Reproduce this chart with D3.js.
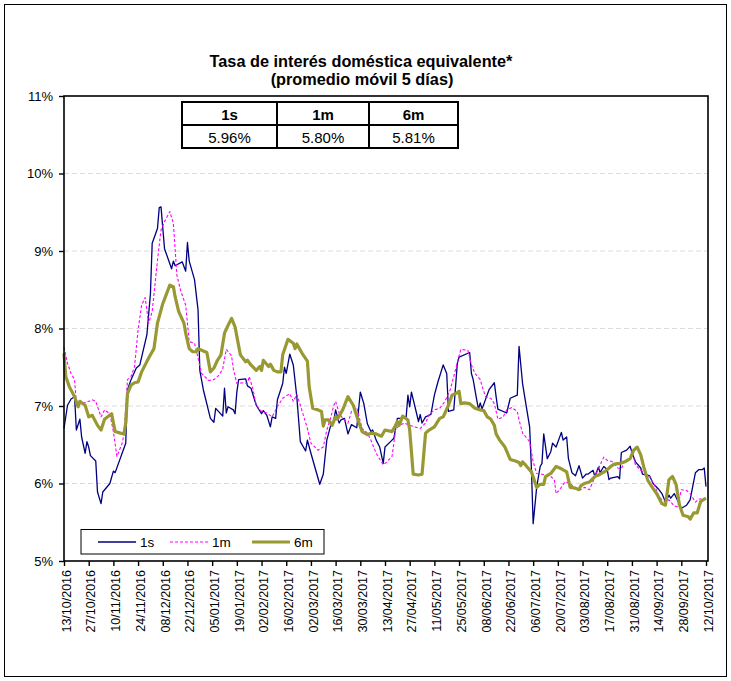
<!DOCTYPE html>
<html>
<head>
<meta charset="utf-8">
<script src="https://cdn.jsdelivr.net/npm/d3@7/dist/d3.min.js"></script>
<style>
  body { margin: 0; background: #fff; }
  svg { display: block; }
  text { font-family: "Liberation Sans", Arial, Helvetica, sans-serif; fill: #000; }
</style>
</head>
<body>
<svg id="chart" width="731" height="681"></svg>
<script>
// ---- Data -------------------------------------------------------------
// Day offsets are counted from the first date on the axis (13/10/2016).
const startLabel = "13/10/2016";

const xTickLabels = [
  "13/10/2016", "27/10/2016", "10/11/2016", "24/11/2016", "08/12/2016", "22/12/2016",
  "05/01/2017", "19/01/2017", "02/02/2017", "16/02/2017", "02/03/2017", "16/03/2017",
  "30/03/2017", "13/04/2017", "27/04/2017", "11/05/2017", "25/05/2017", "08/06/2017",
  "22/06/2017", "06/07/2017", "20/07/2017", "03/08/2017", "17/08/2017", "31/08/2017",
  "14/09/2017", "28/09/2017", "12/10/2017"
];
const yTicks = [5, 6, 7, 8, 9, 10, 11];
const yGrid = [6, 7, 8, 9, 10];

const seriesNames = ["1s", "1m", "6m"];

// 1 semana
const days1s = [0,2,4,6,7,9,10,12,13,14,15,18,19,21,22,26,28,29,35,36,38,41,43,47,49,50,53,54,55,57,
  61,62,63,67,69,70,71,74,76,77,79,83,85,86,90,91,92,93,96,97,98,99,103,104,106,109,112,113,115,117,
  118,120,121,124,125,126,128,130,132,134,137,138,140,145,147,149,151,153,154,156,157,159,161,163,166,168,170,172,174,175,
  177,179,181,182,186,187,189,191,194,195,196,197,199,201,202,203,205,208,210,212,215,217,218,221,223,224,230,231,232,234,
  235,236,237,241,244,245,246,251,253,257,258,260,264,265,266,268,269,270,271,272,274,276,277,279,282,283,285,286,288,290,
  292,294,296,297,300,301,303,304,306,308,309,310,314,315,316,319,321,322,324,327,328,332,334,337,339,341,343,344,346,350,
  353,355,358,360,362,363,364];
const rate1s = [6.71,7.01,7.09,7.12,6.69,6.83,6.60,6.39,6.54,6.47,6.36,6.29,5.89,5.74,5.89,6.00,6.16,6.14,6.52,7.21,
  7.34,7.49,7.53,7.92,8.45,9.10,9.29,9.56,9.57,9.03,8.77,8.87,8.81,8.86,8.74,9.11,8.87,8.63,8.24,7.46,
  7.21,6.84,6.79,6.97,6.87,7.23,6.91,6.99,6.95,6.90,7.18,7.34,7.35,7.26,7.23,7.01,6.90,6.94,6.88,6.73,
  6.86,6.84,7.08,7.29,7.50,7.42,7.67,7.53,7.12,6.54,6.42,6.56,6.39,5.99,6.12,6.56,6.73,6.82,6.95,6.78,
  6.82,6.84,6.64,6.76,6.72,7.18,7.03,6.77,6.67,6.69,6.56,6.47,6.26,6.47,6.56,6.58,6.84,6.84,6.86,7.14,
  6.99,7.18,6.99,6.80,6.89,6.78,6.86,6.89,7.14,7.31,7.53,7.42,6.93,6.95,7.55,7.63,7.69,7.42,7.34,7.08,
  6.96,7.04,6.96,7.21,7.30,7.12,6.96,6.91,7.10,7.14,7.77,7.29,6.73,6.20,5.48,5.95,6.09,6.22,6.26,6.64,
  6.32,6.41,6.52,6.47,6.66,6.56,6.60,6.32,6.14,6.10,6.23,6.07,6.12,6.12,6.17,6.09,6.21,6.14,6.22,6.18,
  6.05,6.07,6.09,6.06,6.40,6.43,6.48,6.40,6.28,6.20,6.12,6.10,6.00,5.93,5.87,5.76,5.85,5.81,5.87,5.68,
  5.72,5.79,6.14,6.18,6.18,6.20,5.96];

// 1 mes
const days1m = [0,2,4,6,7,10,13,16,18,21,23,26,28,30,33,34,36,38,40,42,44,46,48,50,53,55,57,60,62,64,
  66,69,71,74,76,78,82,85,88,90,92,95,96,98,102,104,105,107,109,112,115,118,121,124,128,130,132,134,138,140,
  144,147,149,151,153,154,156,158,161,163,166,169,172,174,177,181,183,186,188,190,193,196,199,202,205,207,210,213,216,219,
  222,224,225,229,231,233,236,237,239,241,242,244,246,249,251,254,257,258,260,264,266,268,271,276,278,279,281,284,287,290,
  293,295,298,301,303,306,308,311,314,316,318,321,322,324,327,329,332,335,337,339,341,343,346,348,350,353,355,358,360,364];
const rate1m = [7.76,7.55,7.42,7.34,7.03,7.03,7.05,7.08,7.06,6.86,6.95,6.90,6.67,6.35,6.52,6.63,7.34,7.38,7.51,7.98,
  8.30,8.40,8.07,8.22,8.88,9.27,9.38,9.51,9.36,8.69,8.50,8.30,7.83,7.81,7.62,7.42,7.33,7.34,7.40,7.48,
  7.73,7.65,7.48,7.29,7.30,7.29,7.38,7.23,7.01,6.93,6.91,6.86,6.99,7.10,7.16,7.06,7.15,7.01,6.71,6.52,
  6.43,6.47,6.69,6.83,7.01,7.06,6.91,6.84,6.78,6.93,6.98,6.71,6.65,6.56,6.39,6.24,6.28,6.35,6.69,6.75,
  6.78,6.75,6.73,6.71,6.78,6.89,6.95,6.97,7.06,7.21,7.47,7.65,7.73,7.72,7.53,7.42,7.34,7.26,7.12,7.10,
  7.10,7.03,6.83,6.86,6.95,6.98,6.93,6.82,6.65,6.54,6.28,6.13,6.12,6.09,6.05,5.87,5.92,6.02,6.00,5.93,
  5.92,5.95,5.92,6.09,6.19,6.34,6.30,6.28,6.20,6.19,6.30,6.32,6.43,6.24,6.17,6.14,6.09,5.97,5.85,5.79,
  5.76,5.79,5.71,5.70,5.92,5.91,5.87,5.76,5.80,5.80];

// 6 meses
const days6m = [0,1,3,6,8,9,12,14,16,19,21,23,27,29,32,34,35,36,38,40,42,44,48,51,53,56,60,62,63,65,
  68,69,71,73,75,76,78,81,83,85,87,89,91,93,95,97,100,103,104,106,109,111,112,113,116,117,119,121,123,124,
  127,130,131,132,135,138,139,141,144,146,147,148,150,152,154,155,158,161,164,167,169,172,174,177,180,182,186,188,189,190,
  192,195,196,198,201,203,205,207,210,213,215,218,220,223,224,225,227,230,233,236,238,240,242,244,245,247,250,253,256,258,
  259,260,262,265,268,270,272,273,276,279,282,285,287,290,292,293,295,298,301,304,307,310,312,315,318,321,323,325,327,329,
  331,333,336,339,341,343,345,347,349,351,354,355,357,359,361,364];
const rate6m = [7.68,7.38,7.25,7.12,6.99,7.06,7.01,6.86,6.88,6.75,6.69,6.83,6.90,6.67,6.65,6.64,6.78,7.16,7.27,7.30,
  7.31,7.44,7.62,7.74,8.07,8.32,8.56,8.54,8.41,8.22,8.07,7.94,7.74,7.70,7.70,7.74,7.72,7.69,7.44,7.49,
  7.59,7.66,7.94,8.04,8.13,8.02,7.66,7.57,7.59,7.53,7.46,7.51,7.46,7.59,7.51,7.54,7.46,7.44,7.44,7.66,
  7.86,7.81,7.74,7.80,7.68,7.58,7.25,6.97,6.95,6.93,6.74,6.82,6.82,6.75,6.86,6.83,6.95,7.12,7.01,6.80,
  6.67,6.63,6.65,6.64,6.61,6.69,6.67,6.75,6.80,6.75,6.87,6.82,6.69,6.12,6.11,6.12,6.65,6.69,6.73,6.84,
  6.86,7.01,7.14,7.17,7.19,7.03,7.04,7.03,6.97,6.95,6.94,6.86,6.83,6.75,6.64,6.56,6.47,6.31,6.29,6.27,
  6.23,6.28,6.23,6.15,5.95,5.99,5.99,6.09,6.13,6.22,6.19,6.15,5.95,5.94,5.92,5.97,6.00,6.02,6.09,6.12,
  6.16,6.22,6.25,6.26,6.28,6.32,6.43,6.47,6.37,6.19,6.04,5.97,5.87,5.74,5.72,6.05,6.09,5.99,5.72,5.59,
  5.57,5.54,5.62,5.62,5.77,5.81];

// ---- Layout & style -----------------------------------------------------
const W = 731, H = 681;
const plot = { left: 64, top: 96, right: 708, bottom: 561 };
const styles = {
  "1s": { color: "#000080", width: 1.3, dash: null },
  "1m": { color: "#ff00ff", width: 1.1, dash: "3,2" },
  "6m": { color: "#999933", width: 3.2, dash: null }
};

const parseDate = d3.utcParse("%d/%m/%Y");
const startDate = parseDate(startLabel);
const toPoints = (days, vals) =>
  d3.zip(days, vals).map(([d, v]) => ({ date: d3.utcDay.offset(startDate, d), value: v }));

const series = [
  { name: "1s", points: toPoints(days1s, rate1s) },
  { name: "1m", points: toPoints(days1m, rate1m) },
  { name: "6m", points: toPoints(days6m, rate6m) }
];

const tickDates = xTickLabels.map(parseDate);

const x = d3.scaleUtc()
  .domain([tickDates[0], tickDates[tickDates.length - 1]])
  .range([plot.left, plot.right - 2]);
const y = d3.scaleLinear().domain([5, 11]).range([plot.bottom, plot.top]);

const svg = d3.select("#chart");

// outer border
svg.append("rect")
  .attr("x", 4.5).attr("y", 4.5).attr("width", 722).attr("height", 672)
  .attr("fill", "#fff").attr("stroke", "#000").attr("stroke-width", 1);

// title
const title = svg.append("text")
  .attr("text-anchor", "middle")
  .style("font-weight", "bold").style("font-size", "16.3px");
title.append("tspan").attr("x", 361).attr("y", 67).text("Tasa de interés doméstica equivalente*");
title.append("tspan").attr("x", 362).attr("y", 85).text("(promedio móvil 5 días)");

// horizontal gridlines
svg.append("g").selectAll("line").data(yGrid).join("line")
  .attr("x1", plot.left).attr("x2", plot.right)
  .attr("y1", d => y(d)).attr("y2", d => y(d))
  .attr("stroke", "#dcdcdc").attr("stroke-width", 1).attr("stroke-dasharray", "5,3");

// series lines
const line = d3.line().x(d => x(d.date)).y(d => y(d.value));
svg.append("g").selectAll("path").data(series).join("path")
  .attr("d", d => line(d.points))
  .attr("fill", "none")
  .attr("stroke", d => styles[d.name].color)
  .attr("stroke-width", d => styles[d.name].width)
  .attr("stroke-dasharray", d => styles[d.name].dash)
  .attr("stroke-linejoin", "round");

// plot frame
svg.append("rect")
  .attr("x", plot.left).attr("y", plot.top)
  .attr("width", plot.right - plot.left).attr("height", plot.bottom - plot.top)
  .attr("fill", "none").attr("stroke", "#000").attr("stroke-width", 1.6);

// y axis
const yAxis = svg.append("g").attr("transform", `translate(${plot.left},0)`)
  .call(d3.axisLeft(y).tickValues(yTicks).tickFormat(d => d + "%").tickSize(5).tickPadding(6));
yAxis.select(".domain").remove();
yAxis.selectAll("line").attr("stroke", "#000").attr("stroke-width", 1.4);
yAxis.selectAll("text").style("font-size", "13px").style("font-family", null);

// x axis
const xAxis = svg.append("g").attr("transform", `translate(0,${plot.bottom})`)
  .call(d3.axisBottom(x).tickValues(tickDates).tickFormat(d3.utcFormat("%d/%m/%Y")).tickSize(5));
xAxis.select(".domain").remove();
xAxis.selectAll("line").attr("stroke", "#000").attr("stroke-width", 1.4);
xAxis.selectAll("text")
  .style("font-size", "12.5px").style("font-family", null)
  .attr("transform", "rotate(-90)")
  .attr("x", -9).attr("y", 0).attr("dy", "0.5em")
  .style("text-anchor", "end");

// table of latest values
const table = { x: [182, 277, 369, 458], top: 102, mid: 125, bottom: 148 };
const latest = series.map(s => d3.format(".2f")(s.points[s.points.length - 1].value) + "%");
const tg = svg.append("g");
tg.append("rect")
  .attr("x", table.x[0]).attr("y", table.top)
  .attr("width", table.x[3] - table.x[0]).attr("height", table.bottom - table.top)
  .attr("fill", "#fff").attr("stroke", "#000").attr("stroke-width", 2);
tg.append("line").attr("x1", table.x[0]).attr("x2", table.x[3])
  .attr("y1", table.mid).attr("y2", table.mid).attr("stroke", "#000").attr("stroke-width", 2);
tg.selectAll("line.col").data(table.x.slice(1, 3)).join("line").attr("class", "col")
  .attr("x1", d => d).attr("x2", d => d).attr("y1", table.top).attr("y2", table.bottom)
  .attr("stroke", "#000").attr("stroke-width", 2);
tg.selectAll("text.head").data(seriesNames).join("text").attr("class", "head")
  .attr("x", (d, i) => (table.x[i] + table.x[i + 1]) / 2).attr("y", 120)
  .attr("text-anchor", "middle").style("font-weight", "bold").style("font-size", "15px")
  .text(d => d);
tg.selectAll("text.val").data(latest).join("text").attr("class", "val")
  .attr("x", (d, i) => (table.x[i] + table.x[i + 1]) / 2).attr("y", 143)
  .attr("text-anchor", "middle").style("font-size", "15px")
  .text(d => d);

// legend
const lg = svg.append("g");
lg.append("rect").attr("x", 81).attr("y", 529.5).attr("width", 243).attr("height", 24.5)
  .attr("fill", "#fff").attr("stroke", "#000").attr("stroke-width", 1);
const legendX = [98, 170, 252];
const item = lg.selectAll("g.item").data(seriesNames).join("g").attr("class", "item")
  .attr("transform", (d, i) => `translate(${legendX[i]},542)`);
item.append("line").attr("x1", 0).attr("x2", 38).attr("y1", 0).attr("y2", 0)
  .attr("stroke", d => styles[d].color)
  .attr("stroke-width", d => styles[d].width)
  .attr("stroke-dasharray", d => styles[d].dash);
item.append("text").attr("x", 42).attr("y", 5).style("font-size", "13.5px").text(d => d);
</script>
</body>
</html>
